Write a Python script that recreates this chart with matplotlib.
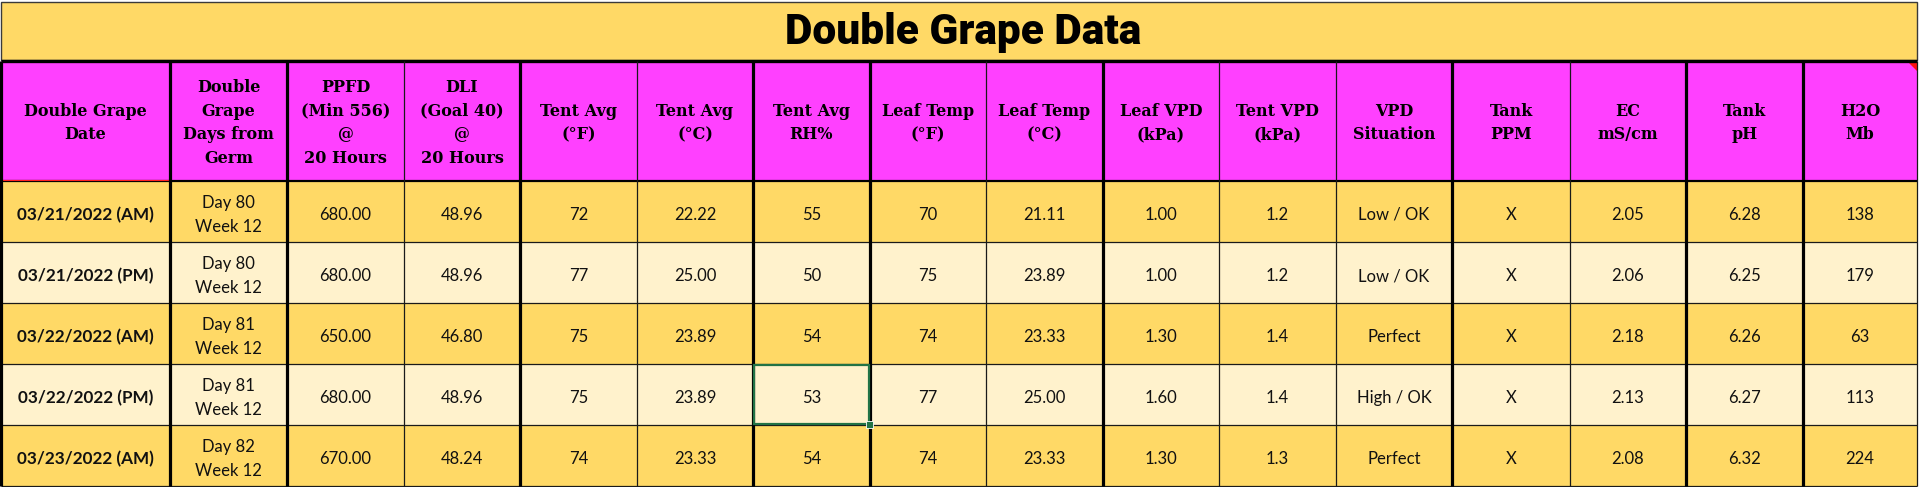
import matplotlib
matplotlib.use("Agg")
import matplotlib.pyplot as plt
from matplotlib.patches import Rectangle, Polygon

# ---------------- data ----------------
title = "Double Grape Data"
headers = ["Double Grape\nDate", "Double\nGrape\nDays from\nGerm", "PPFD\n(Min 556)\n@\n20 Hours",
           "DLI\n(Goal 40)\n@\n20 Hours", "Tent Avg\n(°F)", "Tent Avg\n(°C)", "Tent Avg\nRH%",
           "Leaf Temp\n(°F)", "Leaf Temp\n(°C)", "Leaf VPD\n(kPa)", "Tent VPD\n(kPa)",
           "VPD\nSituation", "Tank\nPPM", "EC\nmS/cm", "Tank\npH", "H2O\nMb"]
dates = ["03/21/2022 (AM)", "03/21/2022 (PM)", "03/22/2022 (AM)", "03/22/2022 (PM)", "03/23/2022 (AM)"]
days = ["Day 80\nWeek 12", "Day 80\nWeek 12", "Day 81\nWeek 12", "Day 81\nWeek 12", "Day 82\nWeek 12"]
ppfd = ["680.00", "680.00", "650.00", "680.00", "670.00"]
dli = ["48.96", "48.96", "46.80", "48.96", "48.24"]
tent_f = [72, 77, 75, 75, 74]
tent_c = ["22.22", "25.00", "23.89", "23.89", "23.33"]
tent_rh = [55, 50, 54, 53, 54]
leaf_f = [70, 75, 74, 77, 74]
leaf_c = ["21.11", "23.89", "23.33", "25.00", "23.33"]
leaf_vpd = ["1.00", "1.00", "1.30", "1.60", "1.30"]
tent_vpd = ["1.2", "1.2", "1.4", "1.4", "1.3"]
vpd_situation = ["Low / OK", "Low / OK", "Perfect", "High / OK", "Perfect"]
tank_ppm = ["X", "X", "X", "X", "X"]
ec = ["2.05", "2.06", "2.18", "2.13", "2.08"]
tank_ph = ["6.28", "6.25", "6.26", "6.27", "6.32"]
h2o_mb = [138, 179, 63, 113, 224]

columns = [dates, days, ppfd, dli, tent_f, tent_c, tent_rh, leaf_f, leaf_c,
           leaf_vpd, tent_vpd, vpd_situation, tank_ppm, ec, tank_ph, h2o_mb]

# ---------------- layout ----------------
W, H = 1920, 487
col_edges = [1, 170, 287, 404, 520, 637, 753, 870, 986, 1103, 1219, 1336, 1452, 1570, 1686, 1803, 1917]
thick = [True, True, True, False, True, False, True, True, False, True, False, False, True, False, True, True, False]
title_top, title_bot = 2, 60
head_top, head_bot = 61, 181
row_edges = [181, 242, 303, 364, 425, 486]

YELLOW = "#FFD966"
LIGHT = "#FFF2CC"
MAGENTA = "#FF40FF"

fig = plt.figure(figsize=(W / 100, H / 100), dpi=100)
ax = fig.add_axes([0, 0, 1, 1])
ax.set_xlim(0, W)
ax.set_ylim(H, 0)
ax.axis("off")

# title bar
ax.add_patch(Rectangle((col_edges[0], title_top), col_edges[-1] - col_edges[0], title_bot - title_top,
                       facecolor=YELLOW, edgecolor="#3a3a3a", lw=1.0))
ax.text(963, (title_top + title_bot) / 2 + 1.5, title,
        ha="center", va="center", fontsize=30.5, fontweight="black", family=["Roboto", "DejaVu Sans"],
        color="black")

# header cells
ax.add_patch(Rectangle((col_edges[0], head_top), col_edges[-1] - col_edges[0], head_bot - head_top,
                       facecolor=MAGENTA, edgecolor="none"))
for i, h in enumerate(headers):
    cx = (col_edges[i] + col_edges[i + 1]) / 2
    ax.text(cx, (head_top + head_bot) / 2 + 2, h, ha="center", va="center", fontsize=11.5,
            fontweight="bold", family=["DejaVu Serif"], linespacing=1.5, color="black")

# body rows
for r in range(len(dates)):
    y0, y1 = row_edges[r], row_edges[r + 1]
    ax.add_patch(Rectangle((col_edges[0], y0), col_edges[-1] - col_edges[0], y1 - y0,
                           facecolor=YELLOW if r % 2 == 0 else LIGHT, edgecolor="none"))
    for c, vals in enumerate(columns):
        cx = (col_edges[c] + col_edges[c + 1]) / 2
        ax.text(cx, (y0 + y1) / 2 + 3.5, str(vals[r]), ha="center", va="center",
                fontsize=12.3 if c == 0 else 12,
                fontweight="bold" if c == 0 else "normal", family=["Lato", "DejaVu Sans"],
                linespacing=1.66, color="#111111")

# horizontal lines
for y in row_edges[1:]:
    ax.plot([col_edges[0], col_edges[-1]], [y, y], color="#1a1a1a", lw=0.9, solid_capstyle="butt")
ax.plot([col_edges[0], col_edges[-1]], [head_top, head_top], color="black", lw=2.4, solid_capstyle="butt")
ax.plot([col_edges[0], col_edges[-1]], [head_bot, head_bot], color="black", lw=1.6, solid_capstyle="butt")
ax.plot([col_edges[0], col_edges[1]], [head_bot - 1.2, head_bot - 1.2], color="#ff2020", lw=0.8,
        solid_capstyle="butt")

# vertical lines
for x, t in zip(col_edges, thick):
    ax.plot([x, x], [head_top, row_edges[-1]], color="black" if t else "#1a1a1a",
            lw=2.3 if t else 0.9, solid_capstyle="butt")

# comment indicator on last header cell
ax.add_patch(Polygon([[col_edges[-1] - 9, head_top + 1], [col_edges[-1], head_top + 1],
                      [col_edges[-1], head_top + 10]], closed=True, facecolor="#ff1010", edgecolor="none"))

# selected cell (row 4, RH column)
sel_r, sel_c = 3, 6
sx0, sx1 = col_edges[sel_c], col_edges[sel_c + 1]
sy0, sy1 = row_edges[sel_r], row_edges[sel_r + 1]
ax.add_patch(Rectangle((sx0 + 1, sy0 + 1), sx1 - sx0 - 2, sy1 - sy0 - 2, facecolor="none",
                       edgecolor="#217346", lw=1.6, zorder=5))
ax.add_patch(Rectangle((sx1 - 4, sy1 - 4), 7, 7, facecolor="#217346", edgecolor="white", lw=0.6, zorder=6))

fig.savefig("out.png", dpi=100)
